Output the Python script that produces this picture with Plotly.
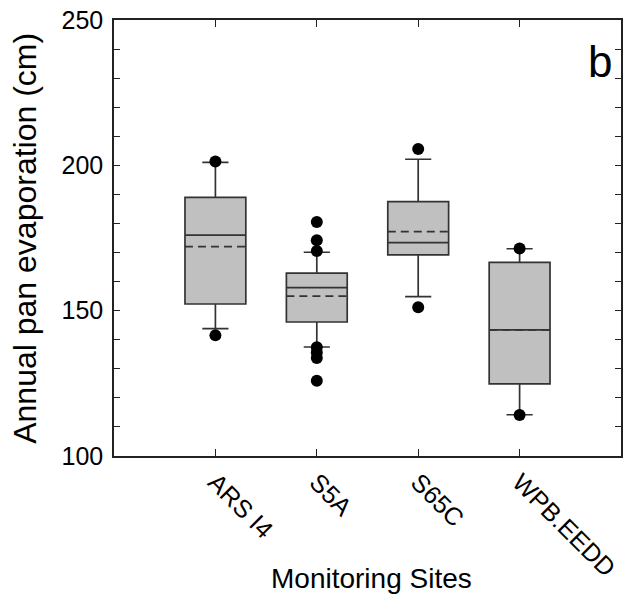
import plotly.graph_objects as go

# ---- data ----
sites = ["ARS I4", "S5A", "S65C", "WPB.EEDD"]
q1 = [152.3, 146.1, 169.2, 124.8]
median = [176.0, 157.9, 173.4, 143.4]
q3 = [189.0, 162.9, 187.5, 166.6]
lower_whisker = [143.8, 137.5, 154.8, 114.2]
upper_whisker = [201.0, 170.1, 202.1, 171.3]
mean = [172.0, 155.0, 177.2, 143.4]

outlier_sites = ["ARS I4", "ARS I4",
                 "S5A", "S5A", "S5A", "S5A", "S5A", "S5A", "S5A",
                 "S65C", "S65C",
                 "WPB.EEDD", "WPB.EEDD"]
outlier_values = [201.3, 141.5,
                  180.5, 174.2, 170.5, 137.4, 135.6, 133.7, 125.9,
                  205.6, 151.2,
                  171.4, 114.1]

y_ticks = [100, 150, 200, 250]

FONT = "Liberation Sans, Arial, sans-serif"
LINE = "#333333"
AX = "#222222"
BOX_W = 0.6

pos = {s: i + 1 for i, s in enumerate(sites)}
xpos = [pos[s] for s in sites]

fig = go.Figure()
fig.add_trace(go.Box(
    x=xpos, q1=q1, median=median, q3=q3,
    lowerfence=lower_whisker, upperfence=upper_whisker,
    boxpoints=False, width=BOX_W, whiskerwidth=0.43,
    fillcolor="#c0c0c0",
    line=dict(color=LINE, width=1.7),
    showlegend=False, hoverinfo="skip",
))
# dashed mean lines across each box
for x, m in zip(xpos, mean):
    fig.add_trace(go.Scatter(
        x=[x - BOX_W / 2, x + BOX_W / 2], y=[m, m], mode="lines",
        line=dict(color=LINE, width=1.7, dash="8px,5px"),
        showlegend=False, hoverinfo="skip",
    ))
fig.add_trace(go.Scatter(
    x=[pos[s] for s in outlier_sites], y=outlier_values, mode="markers",
    marker=dict(color="black", size=12),
    showlegend=False, hoverinfo="skip",
))

fig.add_annotation(text="b", x=0.958, y=0.905, xref="paper", yref="paper",
                   xanchor="center", yanchor="middle",
                   showarrow=False, font=dict(family=FONT, size=44, color="black"))
fig.add_annotation(text="Monitoring Sites", x=0.507, y=-0.28, xref="paper", yref="paper",
                   xanchor="center", yanchor="middle",
                   showarrow=False, font=dict(family=FONT, size=28, color="black"))
fig.add_annotation(text="Annual pan evaporation (cm)", x=-0.176, y=0.50,
                   xref="paper", yref="paper", textangle=-90,
                   xanchor="center", yanchor="middle",
                   showarrow=False, font=dict(family=FONT, size=32, color="black"))

fig.update_layout(
    width=635, height=605,
    margin=dict(l=106, r=22, t=12, b=157),
    paper_bgcolor="white", plot_bgcolor="white",
    font=dict(family=FONT, color="black"),
    xaxis=dict(
        range=[0, 5], tickvals=xpos, ticktext=sites,
        showline=True, linecolor=AX, linewidth=1.5, mirror="ticks",
        ticks="inside", ticklen=7, tickcolor=AX, tickwidth=1.2,
        tickangle=45, tickfont=dict(size=25),
        showgrid=False, zeroline=False, automargin=False,
    ),
    yaxis=dict(
        range=[100, 250], tickvals=y_ticks,
        showline=True, linecolor=AX, linewidth=1.5, mirror="ticks",
        ticks="inside", ticklen=6, tickcolor=AX, tickwidth=1.2,
        minor=dict(dtick=10, ticks="inside", ticklen=6, tickcolor=AX, tickwidth=1.2),
        tickfont=dict(size=25), ticklabelstandoff=4, ticklabeloverflow="allow",
        showgrid=False, zeroline=False, automargin=False,
    ),
)

fig.write_html("out.html")
